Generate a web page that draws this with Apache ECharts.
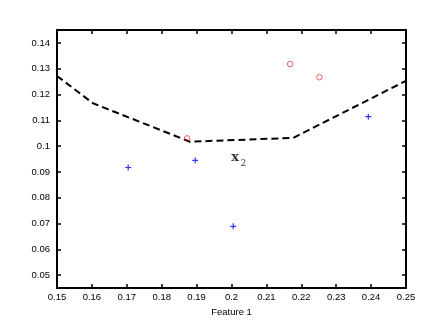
<!DOCTYPE html>
<html>
<head>
<meta charset="utf-8">
<script src="https://cdn.jsdelivr.net/npm/echarts@6/dist/echarts.min.js"></script>
<style>
  html, body { margin: 0; padding: 0; background: #fff; }
  #chart { width: 443px; height: 332px; }
</style>
</head>
<body>
<div id="chart"></div>
<script>
// class 1 (red circles)
const circlePoints = [[0.1873, 0.1030], [0.2168, 0.1318], [0.2252, 0.1267]]
// class 2 (blue plus)
const plusPoints = [[0.1704, 0.0917], [0.1896, 0.0945], [0.2005, 0.0689], [0.2392, 0.1114]]
// dashed boundary
const boundaryX = [0.15, 0.1603, 0.1881, 0.2177, 0.25]
const boundaryY = [0.1272, 0.1166, 0.1017, 0.1032, 0.1253]
const xTicks = [0.15, 0.16, 0.17, 0.18, 0.19, 0.2, 0.21, 0.22, 0.23, 0.24, 0.25]
const yTicks = [0.05, 0.06, 0.07, 0.08, 0.09, 0.1, 0.11, 0.12, 0.13, 0.14]
const labelPos = { x: [0.1999, 0.0931], sub: [0.2026, 0.0915] }

const chart = echarts.init(document.getElementById('chart'))
const fmt = (v) => String(Number(v.toFixed(3)))
const plusPath = 'path://M2,0h1v2h2v1h-2v2h-1v-2h-2v-1h2z'
const axisLine = { show: true, onZero: false, lineStyle: { color: '#000', width: 2 } }
const tickStyle = { inside: true, length: 4, lineStyle: { color: '#000', width: 1.5 } }
const labelStyle = { color: '#000', fontFamily: 'Liberation Sans', fontSize: 9.5 }

const options = {
  animation: false,
  grid: { left: 57, right: 37, top: 30, bottom: 44 },
  xAxis: [{
    type: 'value',
    min: 0.15,
    max: 0.25,
    name: 'Feature 1',
    nameLocation: 'middle',
    nameGap: 3,
    nameTextStyle: labelStyle,
    axisLine,
    axisTick: { ...tickStyle, customValues: xTicks },
    axisLabel: { ...labelStyle, margin: 4, customValues: xTicks, formatter: fmt },
    splitLine: { show: false }
  }, {
    type: 'value',
    position: 'top',
    min: 0.15,
    max: 0.25,
    axisLine,
    axisTick: { ...tickStyle, customValues: xTicks },
    axisLabel: { show: false },
    splitLine: { show: false }
  }],
  yAxis: [{
    type: 'value',
    min: 0.045,
    max: 0.145,
    axisLine,
    axisTick: { ...tickStyle, customValues: yTicks },
    axisLabel: { ...labelStyle, margin: 7, customValues: yTicks, formatter: fmt },
    splitLine: { show: false }
  }, {
    type: 'value',
    position: 'right',
    min: 0.045,
    max: 0.145,
    axisLine,
    axisTick: { ...tickStyle, customValues: yTicks },
    axisLabel: { show: false },
    splitLine: { show: false }
  }],
  series: [{
    type: 'line',
    data: boundaryX.map((x, i) => [x, boundaryY[i]]),
    symbol: 'none',
    lineStyle: { color: '#000', width: 2, type: [7, 4] },
    z: 1
  }, {
    type: 'scatter',
    data: circlePoints,
    symbol: 'circle',
    symbolSize: 5.5,
    itemStyle: { color: 'none', borderColor: '#ff0000', borderWidth: 0.8 },
    z: 3
  }, {
    type: 'scatter',
    data: plusPoints,
    symbol: plusPath,
    symbolSize: 6,
    itemStyle: { color: '#0000ff' },
    z: 3
  }, {
    type: 'scatter',
    symbolSize: 0,
    silent: true,
    data: [
      { value: labelPos.x, label: { formatter: 'x', fontFamily: 'DejaVu Serif', fontWeight: 'bold', fontSize: 13 } },
      { value: labelPos.sub, label: { formatter: '2', fontFamily: 'DejaVu Serif', fontSize: 9 } }
    ],
    label: {
      show: true,
      position: [0, 0],
      align: 'left',
      verticalAlign: 'bottom',
      color: '#000'
    }
  }]
}
chart.setOption(options)
</script>
</body>
</html>
